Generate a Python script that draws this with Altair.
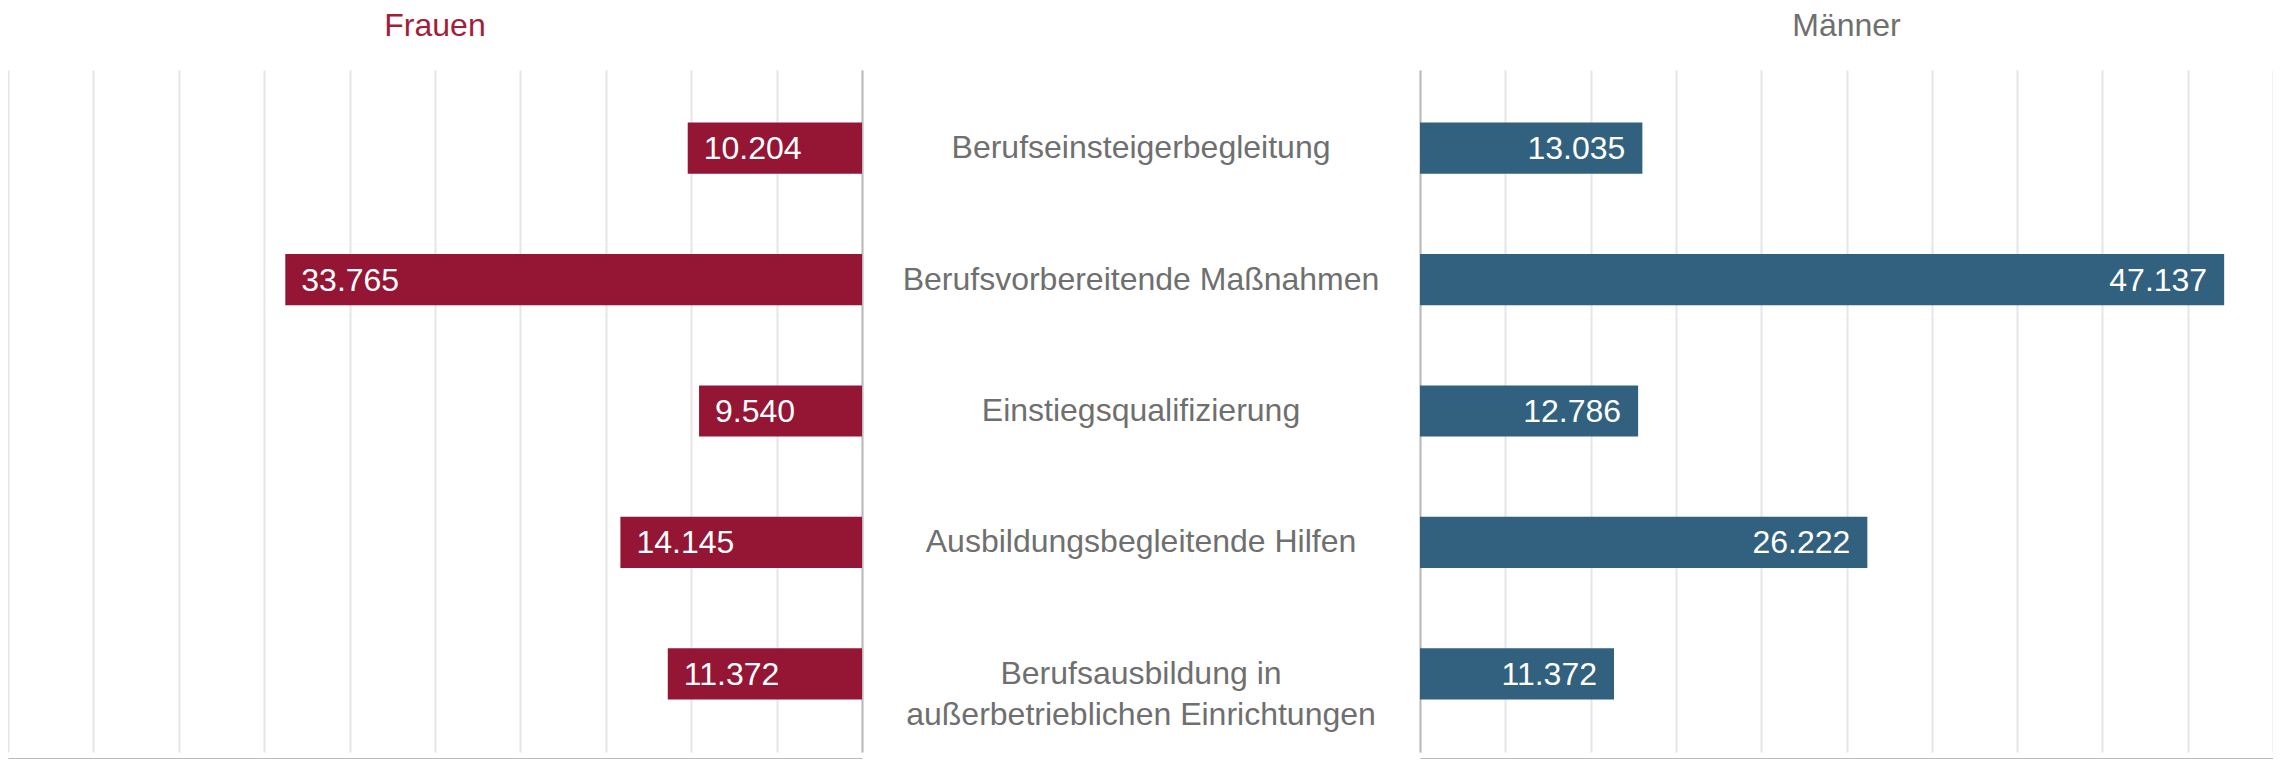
import altair as alt
import pandas as pd

categories = [
    "Berufseinsteigerbegleitung",
    "Berufsvorbereitende Maßnahmen",
    "Einstiegsqualifizierung",
    "Ausbildungsbegleitende Hilfen",
    "Berufsausbildung in\naußerbetrieblichen Einrichtungen",
]
frauen = [10204, 33765, 9540, 14145, 11372]
maenner = [13035, 47137, 12786, 26222, 11372]
grid_ticks = [0, 5000, 10000, 15000, 20000, 25000, 30000, 35000, 40000, 45000, 50000]
x_max = 50000


def fmt(v):
    return f"{v:,}".replace(",", ".")


df = pd.DataFrame({
    "cat": categories,
    "frauen": frauen,
    "maenner": maenner,
    "f_lab": [fmt(v) for v in frauen],
    "m_lab": [fmt(v) for v in maenner],
    "line1": [c.split("\n")[0] for c in categories],
    "line2": [c.split("\n")[1] if "\n" in c else "" for c in categories],
})
df2 = df[df["line2"] != ""]

FONT = "Liberation Sans"
FS = 32
RED = "#941634"
RED_TITLE = "#a31d3b"
BLUE = "#31617f"
GREY_TXT = "#6f6f6f"
GRID = "#e6e6e6"
AXIS = "#bbbbbb"
H = 682

yscale = alt.Scale(type="band", domain=categories, paddingInner=0.61, paddingOuter=0.4)


def x_axis():
    return alt.Axis(values=grid_ticks, grid=True, gridColor=GRID, gridWidth=2,
                    labels=False, ticks=False, domain=True, domainColor=AXIS,
                    domainWidth=3, offset=7, title=None, minExtent=0, maxExtent=0)


def y_axis(orient):
    return alt.Axis(orient=orient, labels=False, ticks=False, domain=True,
                    domainColor=AXIS, domainWidth=2, title=None, grid=False,
                    minExtent=0, maxExtent=0)


# Left panel (Frauen)
xl_scale = alt.Scale(domain=[0, x_max], reverse=True, nice=False)
left_bars = alt.Chart(df).mark_bar(color=RED).encode(
    x=alt.X("frauen:Q", scale=xl_scale, axis=x_axis()),
    y=alt.Y("cat:N", sort=categories, scale=yscale, axis=y_axis("right")),
)
left_text = alt.Chart(df).mark_text(
    align="left", baseline="middle", dx=16, dy=1, color="white", fontSize=FS, font=FONT
).encode(
    x=alt.X("frauen:Q", scale=xl_scale),
    y=alt.Y("cat:N", sort=categories, scale=yscale),
    text="f_lab:N",
)
left = alt.layer(left_bars, left_text).properties(
    width=854, height=H,
    title=alt.TitleParams("Frauen", fontSize=FS, font=FONT, fontWeight="normal",
                          color=RED_TITLE, anchor="middle", offset=27),
)

# Center labels (first line centred on the bar, second line below)
center_l1 = alt.Chart(df).mark_text(
    align="center", baseline="middle", dy=0, fontSize=FS, font=FONT, color=GREY_TXT,
).encode(
    x=alt.value(279),
    y=alt.Y("cat:N", sort=categories, scale=yscale, axis=None),
    text="line1:N",
)
center_l2 = alt.Chart(df2).mark_text(
    align="center", baseline="middle", dy=41, fontSize=FS, font=FONT, color=GREY_TXT,
).encode(
    x=alt.value(279),
    y=alt.Y("cat:N", sort=categories, scale=yscale, axis=None),
    text="line2:N",
)
center = alt.layer(center_l1, center_l2).properties(width=558, height=H)

# Right panel (Männer)
xr_scale = alt.Scale(domain=[0, x_max], nice=False)
right_bars = alt.Chart(df).mark_bar(color=BLUE).encode(
    x=alt.X("maenner:Q", scale=xr_scale, axis=x_axis()),
    y=alt.Y("cat:N", sort=categories, scale=yscale, axis=y_axis("left")),
)
right_text = alt.Chart(df).mark_text(
    align="right", baseline="middle", dx=-17, dy=1, color="white", fontSize=FS, font=FONT
).encode(
    x=alt.X("maenner:Q", scale=xr_scale),
    y=alt.Y("cat:N", sort=categories, scale=yscale),
    text="m_lab:N",
)
right = alt.layer(right_bars, right_text).properties(
    width=853, height=H,
    title=alt.TitleParams("Männer", fontSize=FS, font=FONT, fontWeight="normal",
                          color=GREY_TXT, anchor="middle", offset=27),
)

chart = alt.hconcat(left, center, right, spacing=0, bounds="flush").resolve_scale(
    x="independent"
).properties(
    padding={"left": 0, "right": 0, "top": 2, "bottom": 0}
).configure_view(stroke=None)

chart.save("out.html", embed_options={"renderer": "svg", "actions": False})
